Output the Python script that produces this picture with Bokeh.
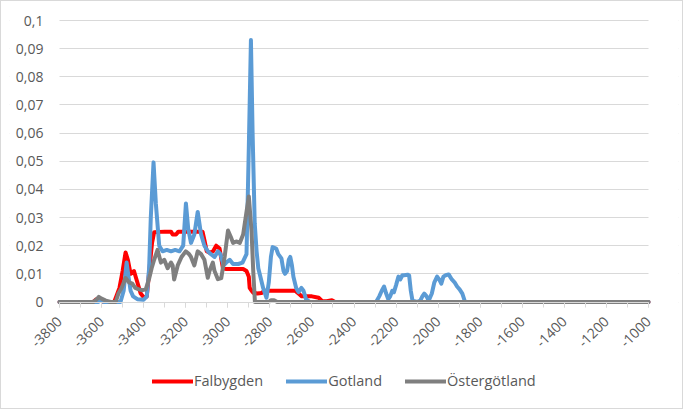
import math
from bokeh.plotting import figure
from bokeh.models import (Range1d, FixedTicker, CustomJSTickFormatter, Legend, LegendItem,
                          LinearAxis, BoxAnnotation)
from bokeh.embed import file_html
from bokeh.resources import INLINE

# ---- data ----
years_falbygden = [-3800, -3640, -3625, -3610, -3590, -3540, -3530, -3515, -3500, -3486,
                   -3475, -3462, -3446, -3430, -3414, -3398, -3385, -3372, -3360, -3350,
                   -3300, -3270, -3262, -3246, -3235, -3120, -3111, -3100, -3087, -3070,
                   -3055, -3039, -3030, -3023, -3007, -2927, -2911, -2900, -2896, -2887,
                   -2879, -2860, -2840, -2824, -2680, -2664, -2648, -2600, -2568, -2552,
                   -2530, -2505, -2490, -1000]
values_falbygden = [0, 0, 0.001, 0.0008, 0, 0, 0.002, 0.005, 0.011, 0.0176,
                    0.015, 0.010, 0.011, 0.007, 0.003, 0.0015, 0.002, 0.012, 0.021, 0.0248,
                    0.025, 0.025, 0.024, 0.024, 0.025, 0.025, 0.022, 0.018, 0.0175, 0.018,
                    0.020, 0.019, 0.015, 0.012, 0.0117, 0.0117, 0.011, 0.009, 0.005, 0.004,
                    0.0033, 0.003, 0.0032, 0.004, 0.004, 0.003, 0.002, 0.002, 0.0015, 0.0004,
                    0.0003, 0.0006, 0, 0]

years_gotland = [-3800, -3615, -3605, -3590, -3510, -3495, -3481, -3470, -3462, -3450,
                 -3430, -3400, -3385, -3374, -3366, -3353, -3342, -3326, -3310, -3290,
                 -3270, -3250, -3230, -3212, -3199, -3188, -3175, -3159, -3143, -3127,
                 -3111, -3095, -3080, -3063, -3047, -3035, -3020, -3007, -2991, -2975,
                 -2950, -2930, -2911, -2900, -2890, -2882, -2872, -2863, -2855, -2845,
                 -2832, -2816, -2805, -2795, -2787, -2770, -2760, -2745, -2735, -2728,
                 -2718, -2710, -2703, -2695, -2688, -2675, -2664, -2650, -2640, -2628,
                 -2610, -2295, -2280, -2268, -2257, -2247, -2237, -2228, -2218, -2210,
                 -2200, -2189, -2180, -2170, -2162, -2145, -2138, -2130, -2122, -2100,
                 -2085, -2075, -2066, -2055, -2045, -2030, -2018, -2005, -1995, -1985,
                 -1975, -1964, -1950, -1935, -1922, -1910, -1898, -1885, -1872, -1000]
values_gotland = [0, 0, 0.0006, 0, 0, 0.004, 0.014, 0.008, 0.004, 0.002,
                  0.001, 0.0008, 0.002, 0.012, 0.030, 0.0496, 0.035, 0.020, 0.018, 0.0185,
                  0.018, 0.0185, 0.018, 0.020, 0.035, 0.026, 0.021, 0.024, 0.032, 0.024,
                  0.020, 0.018, 0.017, 0.016, 0.018, 0.017, 0.013, 0.014, 0.015, 0.0135,
                  0.0135, 0.014, 0.017, 0.055, 0.0931, 0.060, 0.028, 0.018, 0.012, 0.009,
                  0.005, 0.0015, 0.007, 0.016, 0.0195, 0.019, 0.017, 0.0155, 0.011, 0.010,
                  0.011, 0.015, 0.016, 0.013, 0.009, 0.005, 0.0035, 0.005, 0.004, 0.001,
                  0, 0, 0.002, 0.004, 0.0055, 0.003, 0.001, 0.002, 0.004, 0.0035,
                  0.006, 0.009, 0.008, 0.0095, 0.0095, 0.0097, 0.0095, 0.004, 0.0005, 0,
                  0.0005, 0.002, 0.003, 0.002, 0.0005, 0.003, 0.007, 0.009, 0.008, 0.0065,
                  0.009, 0.0095, 0.0098, 0.008, 0.007, 0.0055, 0.0045, 0.003, 0, 0]

years_ostergotland = [-3800, -3640, -3625, -3613, -3600, -3580, -3557, -3533, -3520, -3505,
                      -3486, -3470, -3454, -3440, -3423, -3405, -3390, -3375, -3362, -3350,
                      -3334, -3318, -3302, -3286, -3270, -3262, -3255, -3238, -3220, -3200,
                      -3184, -3175, -3159, -3143, -3127, -3111, -3095, -3087, -3071, -3063,
                      -3047, -3031, -3015, -2999, -2985, -2975, -2960, -2943, -2927, -2911,
                      -2900, -2887, -2879, -2871, -2805, -2795, -2780, -2765, -1000]
values_ostergotland = [0, 0, 0.0008, 0.0018, 0.0012, 0.0005, 0, 0, 0.003, 0.005,
                       0.0085, 0.007, 0.0065, 0.005, 0.0045, 0.0042, 0.0045, 0.008, 0.012, 0.015,
                       0.0185, 0.014, 0.015, 0.012, 0.014, 0.013, 0.008, 0.013, 0.016, 0.018,
                       0.017, 0.016, 0.013, 0.018, 0.017, 0.015, 0.0086, 0.011, 0.014, 0.011,
                       0.0081, 0.0085, 0.016, 0.0254, 0.023, 0.021, 0.0215, 0.021, 0.024, 0.032,
                       0.0375, 0.025, 0.011, 0, 0, 0.0006, 0.0006, 0, 0]

x_ticks = [-3800, -3600, -3400, -3200, -3000, -2800, -2600, -2400, -2200, -2000,
           -1800, -1600, -1400, -1200, -1000]
x_minor_ticks = [-3800, -3700, -3600, -3500, -3400, -3300, -3200, -3100, -3000, -2900,
                 -2800, -2700, -2600, -2500, -2400, -2300, -2200, -2100, -2000, -1900,
                 -1800, -1700, -1600, -1500, -1400, -1300, -1200, -1100, -1000]
y_ticks = [0, 0.01, 0.02, 0.03, 0.04, 0.05, 0.06, 0.07, 0.08, 0.09, 0.1]

series_names = ["Falbygden", "Gotland", "Östergötland"]
series_colors = ["#FF0000", "#5B9BD5", "#7F7F7F"]

FONT = "Open Sans"
TXT = "#595959"
GRID = "#d9d9d9"

X0, X1 = x_ticks[0], x_ticks[-1]
Y0, Y1 = y_ticks[0], y_ticks[-1]
px_x = (X1 - X0) / 589.0      # data units per pixel, horizontally
px_y = (Y1 - Y0) / 281.5      # data units per pixel, vertically

# the frame covers the whole chart area; axes are pinned at x=-3800 and y=0
p = figure(width=683, height=409, output_backend="svg", toolbar_location=None,
           x_range=Range1d(X0 - 50 * px_x, X1 + 30 * px_x),
           y_range=Range1d(Y0 - 107.5 * px_y, Y1 + 12 * px_y),
           x_axis_location=None, y_axis_location=None,
           min_border_left=8, min_border_right=6, min_border_top=7, min_border_bottom=1)
p.styles = {"border": "1px solid #d9d9d9"}
p.outline_line_color = None
p.background_fill_color = "white"
p.border_fill_color = "white"

p.xgrid.visible = False
p.ygrid.ticker = FixedTicker(ticks=y_ticks)
p.ygrid.grid_line_color = GRID
p.ygrid.grid_line_width = 1

# keep the horizontal gridlines inside the plot area (-3800 .. -1000)
p.add_layout(BoxAnnotation(right=X0, fill_color="white", fill_alpha=1,
                           line_color=None, level="underlay"))
p.add_layout(BoxAnnotation(left=X1, fill_color="white", fill_alpha=1,
                           line_color=None, level="underlay"))

xa = LinearAxis(fixed_location=0, bounds=(X0, X1))
xa.ticker = FixedTicker(ticks=x_ticks, minor_ticks=x_minor_ticks)
xa.formatter = CustomJSTickFormatter(code="return String(tick)")
xa.axis_line_color = GRID
xa.major_tick_line_color = GRID
xa.minor_tick_line_color = GRID
xa.major_tick_in = 0
xa.major_tick_out = 5
xa.minor_tick_in = 0
xa.minor_tick_out = 5
xa.major_label_orientation = math.pi / 4
xa.major_label_standoff = 12
xa.major_label_text_font = FONT
xa.major_label_text_font_size = "14px"
xa.major_label_text_color = TXT
p.add_layout(xa, "below")

ya = LinearAxis(fixed_location=X0, bounds=(Y0, Y1))
ya.ticker = FixedTicker(ticks=y_ticks)
ya.formatter = CustomJSTickFormatter(code="return String(Math.round(tick*100)/100).replace('.', ',')")
ya.axis_line_color = None
ya.major_tick_line_color = None
ya.minor_tick_line_color = None
ya.major_tick_out = 0
ya.major_label_standoff = 16
ya.major_label_text_font = FONT
ya.major_label_text_font_size = "14px"
ya.major_label_text_color = TXT
p.add_layout(ya, "left")

data = [(years_falbygden, values_falbygden),
        (years_gotland, values_gotland),
        (years_ostergotland, values_ostergotland)]
renderers = []
for (xs, ys), name, color in zip(data, series_names, series_colors):
    r = p.line(xs, ys, line_color=color, line_width=4, line_join="round", line_cap="round")
    renderers.append(r)

legend = Legend(items=[LegendItem(label=n, renderers=[r]) for n, r in zip(series_names, renderers)],
                orientation="horizontal", location=(143, 19),
                border_line_color=None, background_fill_alpha=0,
                padding=0, margin=0, spacing=23, glyph_width=41, glyph_height=16,
                label_height=16, label_standoff=1,
                label_text_font=FONT, label_text_font_size="14.5px", label_text_color=TXT)
p.add_layout(legend, "center")

open("out.html", "w").write(file_html(p, INLINE))
